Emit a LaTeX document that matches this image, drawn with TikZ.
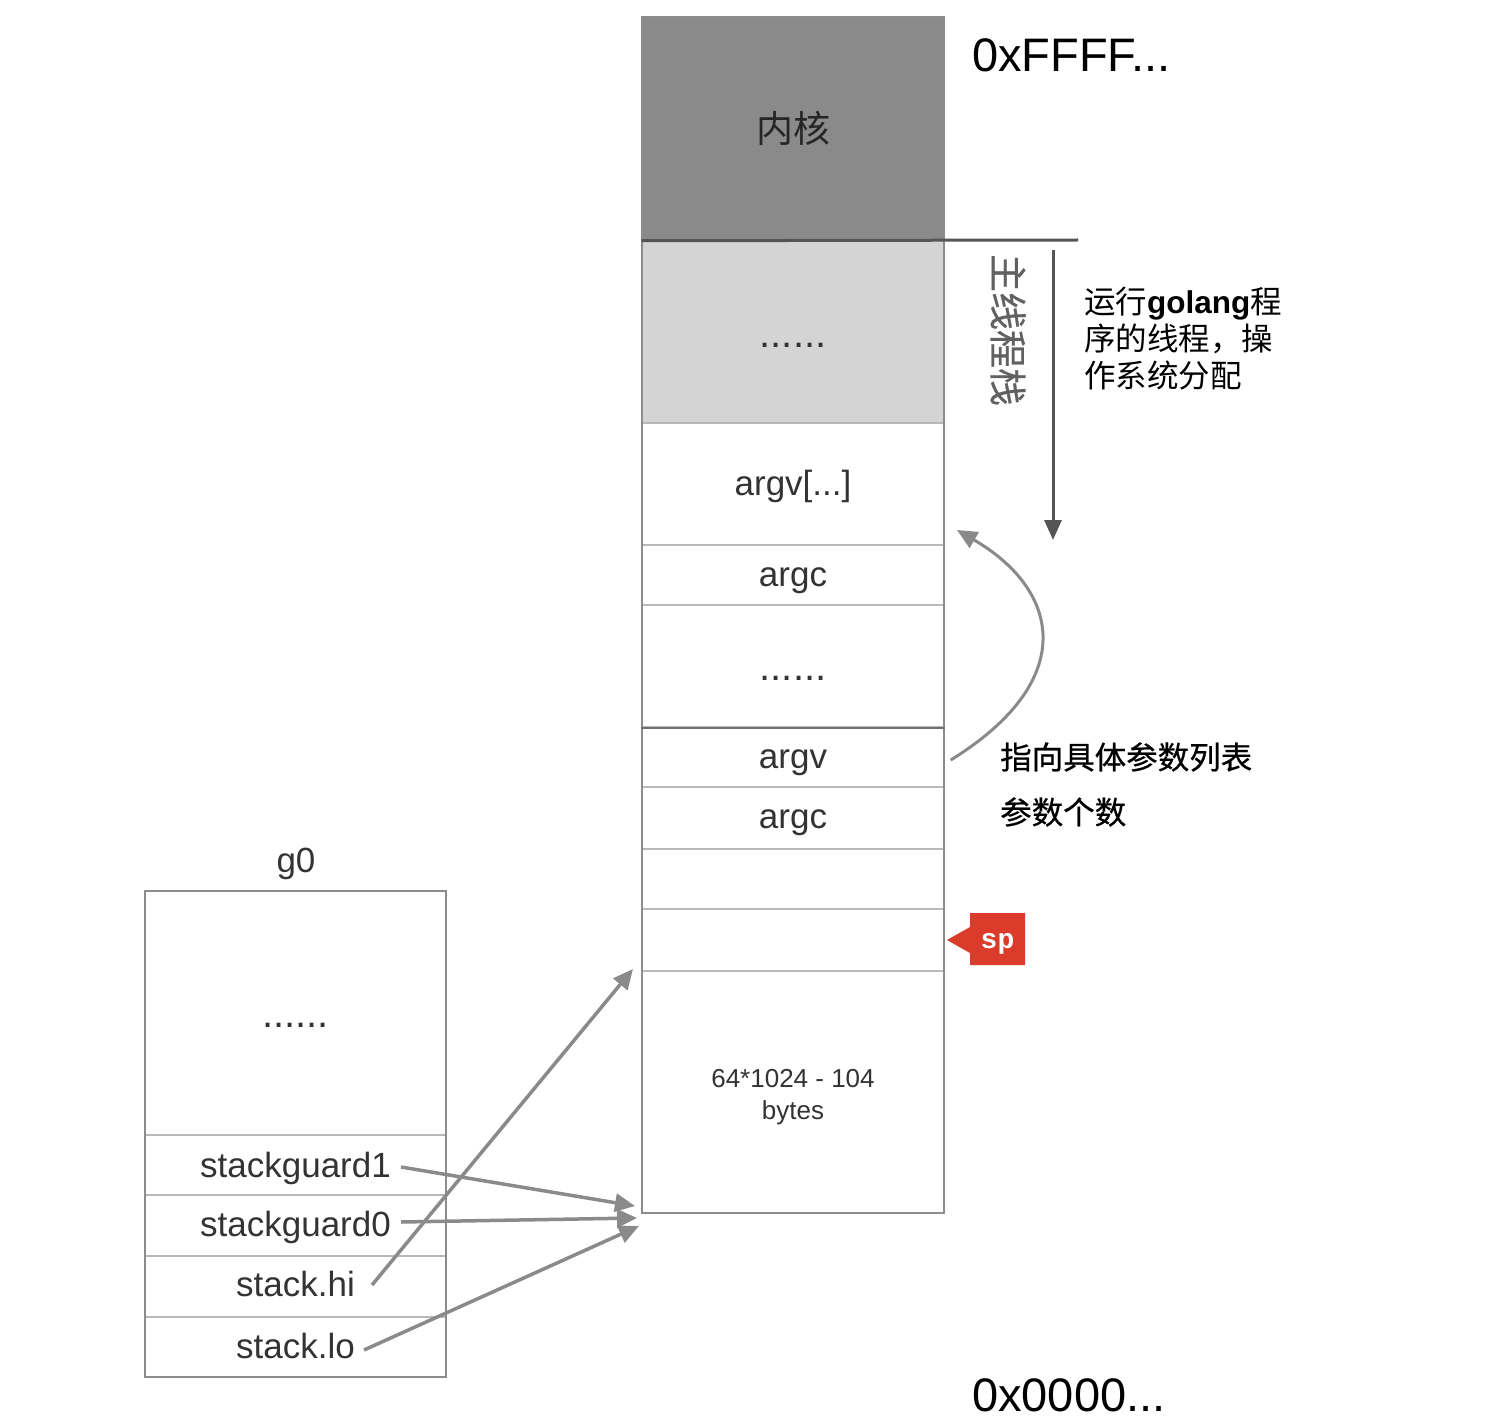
\documentclass[tikz,border=0pt]{standalone}
\usepackage{fontspec}
\setmainfont{Liberation Sans}
\newfontfamily\cjk{Noto Sans CJK SC}
\newfontfamily\cjkm[FakeBold=0.6]{Noto Sans CJK SC}
\newfontfamily\spfont{Liberation Mono}
\usetikzlibrary{arrows.meta}
\definecolor{kern}{HTML}{8A8A8A}
\definecolor{lgray}{HTML}{D4D4D4}
\definecolor{border}{HTML}{8C8C8C}
\definecolor{sep}{HTML}{B8B8B8}
\definecolor{txt}{HTML}{333333}
\definecolor{arr}{HTML}{8A8A8A}
\definecolor{darkline}{HTML}{555555}
\definecolor{spred}{HTML}{DA3B2B}
\begin{document}
\begin{tikzpicture}[x=1pt,y=-1pt,
  cell/.style={draw=sep, line width=1.5pt, minimum width=302pt, inner sep=0pt},
  gcell/.style={draw=sep, line width=1.5pt, minimum width=301pt, inner sep=0pt},
  lbl/.style={inner sep=0pt, text=txt, font=\fontsize{35}{42}\selectfont},
  dots/.style={inner sep=0pt, text=txt, font=\fontsize{40}{40}\selectfont},
  ptr/.style={draw=arr, line width=3.5pt, -{Triangle[length=20pt,width=18pt]}},
  addr/.style={inner sep=0pt, anchor=west, font=\fontsize{47}{50}\selectfont},
  note/.style={inner sep=0pt, font=\cjk\fontsize{31.5}{37}\selectfont}]
\useasboundingbox (0,0) rectangle (1500,1423);
\fill[white] (0,0) rectangle (1500,1423);

% main stack cells
\node[cell, fill=kern, minimum height=223pt] (kernel) at (793,128.5) {};
\node[cell, fill=lgray, minimum height=183pt] (upper) at (793,331.5) {};
\node[cell, minimum height=122pt] (argvarr) at (793,484) {};
\node[cell, minimum height=60pt] (argc1) at (793,575) {};
\node[cell, minimum height=122pt] (mid) at (793,666) {};
\node[cell, minimum height=60pt] (argv) at (793,757) {};
\node[cell, minimum height=62pt] (argc2) at (793,818) {};
\node[cell, minimum height=60pt] (e1) at (793,879) {};
\node[cell, minimum height=62pt] (e2) at (793,940) {};
\node[cell, minimum height=242pt] (bytes) at (793,1092) {};
\draw[border, line width=2pt] (642,17) rectangle (944,1213);
\draw[border!80!black, line width=2pt] (mid.south west) -- (mid.south east);
\coordinate (hl) at (1078,240);
\draw[darkline, line width=3pt] (kernel.south west) -- (hl);

% main stack texts
\node[inner sep=0pt, text=black!85, font=\cjk\fontsize{37}{44}\selectfont] (kernelt) at (793,128.5) {内核};
\node[dots] (uppert) at (793,345.5) {......};
\node[lbl] (argvarrt) at (793,486) {argv[...]};
\node[lbl] (argc1t) at (793,581) {argc};
\node[dots] (midt) at (793,678) {......};
\node[lbl] (argvt) at (793,763) {argv};
\node[lbl] (argc2t) at (793,823) {argc};
\node[inner sep=0pt, text=txt, align=center, font=\fontsize{26}{32}\selectfont] (bytest) at (793,1097) {64*1024 - 104\\bytes};

% addresses
\node[addr] (hi) at (972,55) {0xFFFF...};
\node[addr] (lo) at (972,1395) {0x0000...};

% main thread stack label and arrow
\node[inner sep=0pt, rotate=-90, text=black!62, font=\cjkm\fontsize{38}{40}\selectfont] (mts) at (1008,330) {主线程栈};
\coordinate (va) at (1053,250);
\coordinate (vb) at (1053,540);
\draw[darkline, line width=3pt, -{Triangle[length=20pt,width=17pt]}] (va) -- (vb);
\node[note, anchor=north west, align=left] (note1) at (1084,287) {运行{\rmfamily\bfseries golang}程\\序的线程，操\\作系统分配};

% argv pointer
\coordinate (carr) at (957,530);
\draw[ptr, line width=3pt] ([xshift=6pt,yshift=-3pt]argv.east) .. controls (1080,680) and (1060,590) .. (carr);
\node[note, anchor=west, font=\cjkm\fontsize{31.5}{37}\selectfont] (note2) at (1000,757) {指向具体参数列表};
\node[note, anchor=west, font=\cjkm\fontsize{31.5}{37}\selectfont] (note3) at (1000,812) {参数个数};

% sp marker
\fill[spred] (970,913) -- (1025,913) -- (1025,965) -- (970,965) -- (970,953) -- (947,940) -- (970,927) -- cycle;
\node[inner sep=0pt, text=white, font=\spfont\bfseries\fontsize{28}{28}\selectfont] (sp) at (997.5,944) {sp};

% g0
\node[lbl] (g0) at (296,864) {g0};
\node[gcell, minimum height=244pt] (gdots) at (295.5,1013) {};
\node[gcell, minimum height=60pt] (sg1) at (295.5,1165) {};
\node[gcell, minimum height=61pt] (sg0) at (295.5,1225.5) {};
\node[gcell, minimum height=61pt] (shi) at (295.5,1286.5) {};
\node[gcell, minimum height=60pt] (slo) at (295.5,1347) {};
\draw[border, line width=2pt] (145,891) rectangle (446,1377);
\node[dots] (gdotst) at (295.5,1025) {......};
\node[lbl] (sg1t) at (295.5,1168) {stackguard1};
\node[lbl] (sg0t) at (295.5,1227) {stackguard0};
\node[lbl] (shit) at (295.5,1284) {stack.hi};
\node[lbl] (slot) at (295.5,1346) {stack.lo};

\coordinate (t1) at (635,1206);
\coordinate (t0) at (637,1218);
\coordinate (tlo) at (639,1226);
\coordinate (thi) at (633,969);
\draw[ptr] ([xshift=10pt,yshift=1pt]sg1t.east) -- (t1);
\draw[ptr] ([xshift=10pt,yshift=5pt]sg0t.east) -- (t0);
\draw[ptr] ([xshift=17pt,yshift=-1pt]shit.east) -- (thi);
\draw[ptr] ([xshift=9pt,yshift=-4pt]slot.east) -- (tlo);
\end{tikzpicture}
\end{document}
